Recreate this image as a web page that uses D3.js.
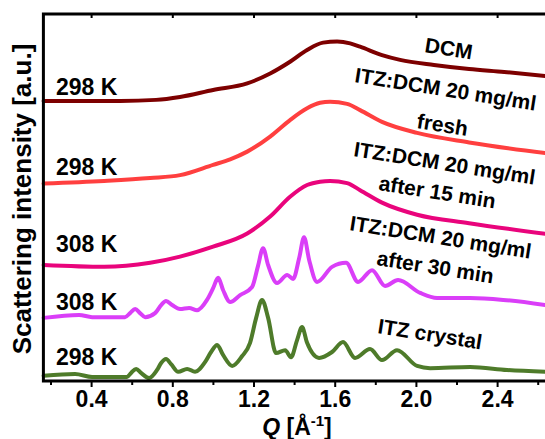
<!DOCTYPE html>
<meta charset="utf-8">
<style>

body {
  margin: 0;
  background: #fff;
}

text {
  font-family: "Liberation Sans", Arial, Helvetica, sans-serif;
  font-weight: bold;
  fill: #000;
}

.curve {
  fill: none;
  stroke-width: 4px;
  stroke-linejoin: round;
  stroke-linecap: round;
}

.frame {
  fill: none;
  stroke: #000;
  stroke-width: 3px;
}

.axis line {
  stroke: #000;
  stroke-width: 2px;
}

</style>
<svg width="545" height="439"></svg>
<script src="https://d3js.org/d3.v7.min.js"></script>
<script>

// ITZ:DCM 20 mg/ml, pure DCM, 298 K
var qDcm = [0.166, 0.543, 0.720, 0.838, 1.001, 1.169, 1.282, 1.380, 1.464, 1.543, 1.612, 1.676, 1.725, 1.833, 1.922, 2.089, 2.262, 2.435, 2.637];
var iDcm = [76.3, 76.3, 76.6, 77.4, 79.3, 81.1, 83.8, 87.0, 90.2, 92.2, 92.5, 92.0, 91.1, 88.8, 87.5, 86.1, 85.0, 84.2, 83.1];

// fresh, 298 K
var qFresh = [0.166, 0.464, 0.691, 0.838, 1.001, 1.085, 1.169, 1.282, 1.380, 1.464, 1.528, 1.577, 1.661, 1.725, 1.833, 2.006, 2.262, 2.637];
var iFresh = [53.8, 54.5, 55.3, 56.1, 58.9, 60.4, 62.5, 66.6, 71.1, 74.3, 75.8, 76.1, 75.5, 73.8, 70.6, 67.6, 65.0, 62.1];

// after 15 min, 308 K
var q15 = [0.166, 0.464, 0.691, 0.838, 1.001, 1.169, 1.282, 1.380, 1.464, 1.528, 1.577, 1.661, 1.725, 1.833, 2.006, 2.262, 2.637];
var i15 = [31.6, 31.1, 32.2, 33.9, 36.6, 40.2, 44.8, 50.2, 53.4, 54.3, 54.5, 53.9, 52.0, 48.6, 45.3, 43.0, 40.1];

// after 30 min, 308 K
var q30 = [0.166, 0.341, 0.405, 0.567, 0.592, 0.617, 0.641, 0.666, 0.715, 0.745, 0.769, 0.799, 0.838, 0.883, 0.922,
           0.971, 1.001, 1.026, 1.050, 1.085, 1.134, 1.193, 1.222, 1.247, 1.272, 1.316, 1.366, 1.395, 1.425, 1.449,
           1.474, 1.513, 1.587, 1.656, 1.715, 1.784, 1.848, 1.912, 2.021, 2.104, 2.267, 2.430, 2.637];
var i30 = [17.2, 18.0, 17.4, 17.4, 18.5, 19.6, 18.5, 17.4, 18.5, 20.7, 21.8, 20.7, 19.6, 19.9, 19.3,
           22.1, 25.3, 28.1, 24.8, 21.5, 23.4, 25.6, 31.3, 36.2, 31.6, 26.7, 28.9, 27.8, 33.5, 39.2,
           33.0, 27.0, 31.1, 32.2, 27.0, 30.2, 25.9, 27.5, 24.0, 22.6, 22.6, 22.1, 20.7];

// ITZ crystal, 298 K
var qCrystal = [0.166, 0.321, 0.405, 0.577, 0.597, 0.622, 0.646, 0.686, 0.725, 0.745, 0.769, 0.794, 0.829, 0.873, 0.912,
                0.962, 0.991, 1.021, 1.050, 1.095, 1.144, 1.183, 1.213, 1.242, 1.272, 1.311, 1.356, 1.385, 1.415, 1.439,
                1.464, 1.523, 1.587, 1.641, 1.700, 1.774, 1.833, 1.907, 2.006, 2.070, 2.267, 2.449, 2.637];
var iCrystal = [1.4, 1.9, 1.1, 1.1, 2.2, 3.3, 2.2, 0.8, 3.0, 4.9, 6.0, 4.6, 2.5, 3.3, 2.5,
                5.2, 7.9, 9.8, 7.1, 4.1, 6.8, 10.4, 17.2, 22.1, 17.2, 7.6, 8.4, 6.5, 11.2, 14.7,
                10.4, 6.3, 7.9, 10.6, 6.3, 8.7, 5.7, 8.4, 4.1, 3.5, 3.8, 3.0, 2.5];

var tempLabels = ["298 K", "298 K", "308 K", "308 K", "298 K"];
var sampleLabels = ["DCM", "ITZ:DCM 20 mg/ml", "fresh", "ITZ:DCM 20 mg/ml", "after 15 min",
                    "ITZ:DCM 20 mg/ml", "after 30 min", "ITZ crystal"];
var majorTicks = [0.4, 0.8, 1.2, 1.6, 2.0, 2.4];
var minorTicks = [0.2, 0.6, 1.0, 1.4, 1.8, 2.2, 2.6];

var series = [
  {q: qDcm, i: iDcm, color: "#7d0000"},
  {q: qFresh, i: iFresh, color: "#ff3f3f"},
  {q: q15, i: i15, color: "#e9047c"},
  {q: q30, i: i30, color: "#da3ef8"},
  {q: qCrystal, i: iCrystal, color: "#4e7b2a"}
];

var svg = d3.select("svg"),
    plotLeft = 43.4, plotTop = 14, plotBottom = 381;

var x = d3.scaleLinear().domain([0.165, 2.7]).range([plotLeft, plotLeft + 203 * (2.7 - 0.165)]);
var y = d3.scaleLinear().domain([0, 100]).range([plotBottom, plotTop]);

var line = d3.line()
    .x(function(d) { return x(d[0]); })
    .y(function(d) { return y(d[1]); })
    .curve(d3.curveMonotoneX);

svg.selectAll(".curve")
  .data(series)
  .enter().append("path")
    .attr("class", "curve")
    .attr("stroke", function(d) { return d.color; })
    .attr("d", function(d) { return line(d3.zip(d.q, d.i)); });

// axes
var gx = svg.append("g")
    .attr("class", "axis")
    .attr("transform", "translate(0," + plotBottom + ")")
    .call(d3.axisBottom(x).tickValues(majorTicks).tickSize(6).tickPadding(4).tickFormat(d3.format(".1f")));

gx.append("g")
    .call(d3.axisBottom(x).tickValues(minorTicks).tickSize(4).tickFormat(""));

gx.selectAll(".domain").remove();
gx.selectAll("text")
    .style("font-size", "23px")
    .attr("fill", "#000");
gx.attr("font-family", null).attr("font-size", null);

var gt = svg.append("g")
    .attr("class", "axis")
    .attr("transform", "translate(0," + plotTop + ")")
    .call(d3.axisBottom(x).tickValues(majorTicks).tickSize(4).tickFormat(""));
gt.selectAll(".domain").remove();

svg.append("path")
    .attr("class", "frame")
    .attr("d", "M560," + plotTop + "H" + plotLeft + "V" + plotBottom + "H560");

// axis titles
var xt = svg.append("text")
    .attr("x", 297)
    .attr("y", 435)
    .attr("text-anchor", "middle")
    .style("font-size", "23px");
xt.append("tspan").style("font-style", "italic").text("Q");
xt.append("tspan").text(" [Å");
xt.append("tspan").attr("dy", -9).style("font-size", "15px").text("-1");
xt.append("tspan").attr("dy", 9).text("]");

svg.append("text")
    .attr("transform", "translate(31,199) rotate(-90)")
    .attr("text-anchor", "middle")
    .style("font-size", "26px")
    .text("Scattering intensity [a.u.]");

// temperatures on the left
var tempY = [95, 175, 252, 310, 365];
svg.selectAll(".temp")
  .data(tempLabels)
  .enter().append("text")
    .attr("class", "temp")
    .attr("x", 56)
    .attr("y", function(d, k) { return tempY[k]; })
    .style("font-size", "23px")
    .text(function(d) { return d; });

// sample labels on the right
var samplePos = [[424, 52], [354, 82], [416, 128], [353, 156], [378, 190], [349, 230], [376, 265], [377, 333]];
svg.selectAll(".sample")
  .data(sampleLabels)
  .enter().append("text")
    .attr("class", "sample")
    .attr("transform", function(d, k) { return "translate(" + samplePos[k] + ") rotate(9)"; })
    .style("font-size", "21px")
    .text(function(d) { return d; });

</script>
